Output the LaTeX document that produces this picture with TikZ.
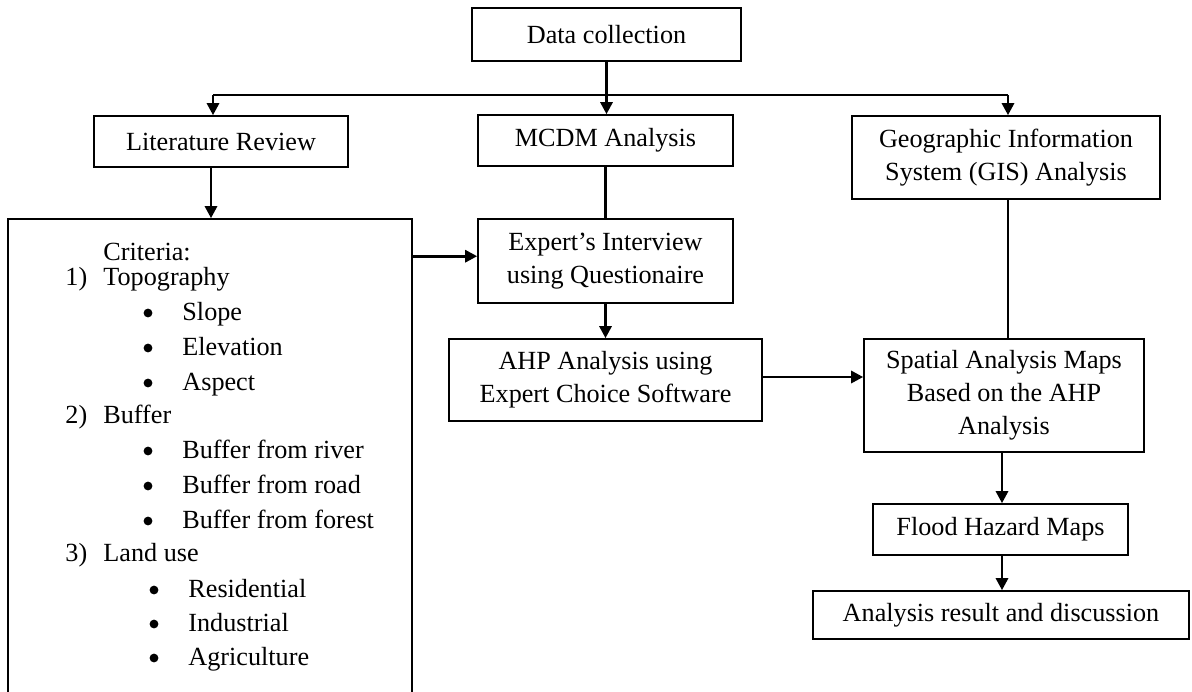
\documentclass[tikz,border=0pt]{standalone}
\usepackage{fontspec}
\setmainfont{Liberation Serif}
\usetikzlibrary{arrows.meta}
\begin{document}
\begin{tikzpicture}[x=0.5pt,y=-0.5pt,
  txt/.style={font=\fontsize{13.1pt}{16.5pt}\selectfont},
  box/.style={draw, line width=0.8pt, inner sep=0pt, align=center, txt},
  conn/.style={line width=1.4pt},
  arr/.style={conn, -{Triangle[length=6pt,width=6pt]}},
  lbl/.style={anchor=base west, inner sep=0pt, txt},
  bul/.style={circle, fill=black, inner sep=0pt, minimum size=4.4pt}]
\useasboundingbox (0,0) rectangle (1192,691);
\fill[white] (0,0) rectangle (1192,691);
\clip (0,0) rectangle (1192,691);

% boxes
\node[box, minimum width=134.5pt, minimum height=26.5pt] (data) at (606.5,34.5) {Data collection};
\node[box, minimum width=127pt, minimum height=25.5pt] (lit) at (221,141.5) {Literature Review};
\node[box, minimum width=127.5pt, minimum height=25.5pt] (mcdm) at (605.5,140.5) {MCDM Analysis};
\node[box, minimum width=154pt, minimum height=41.5pt] (gis) at (1006,157.5) {Geographic Information\\System (GIS) Analysis};
\node[box, minimum width=202pt, minimum height=270.5pt] (crit) at (210,489.5) {};
\node[box, minimum width=127.5pt, minimum height=42pt] (expert) at (605.5,261) {Expert’s Interview\\using Questionaire};
\node[box, minimum width=156.5pt, minimum height=41pt] (ahp) at (605.5,380) {AHP Analysis using\\Expert Choice Software};
\node[box, minimum width=140pt, minimum height=56.5pt] (spatial) at (1004,395.5) {Spatial Analysis Maps\\Based on the AHP\\Analysis};
\node[box, minimum width=127.5pt, minimum height=25.5pt] (flood) at (1000.5,529.5) {Flood Hazard Maps};
\node[box, minimum width=188pt, minimum height=24pt] (result) at (1001,615) {Analysis result and discussion};

% criteria list
\node[lbl] (c0) at (103,260) {Criteria:};
\node[lbl] (n1) at (65,285) {1)};
\node[lbl] (c1) at (103,285) {Topography};
\node[bul] (b11) at (148,313) {};
\node[lbl] (c11) at (182,320) {Slope};
\node[bul] (b12) at (148,348) {};
\node[lbl] (c12) at (182,355) {Elevation};
\node[bul] (b13) at (148,383) {};
\node[lbl] (c13) at (182,390) {Aspect};
\node[lbl] (n2) at (65,423) {2)};
\node[lbl] (c2) at (103,423) {Buffer};
\node[bul] (b21) at (148,451) {};
\node[lbl] (c21) at (182,458) {Buffer from river};
\node[bul] (b22) at (148,486) {};
\node[lbl] (c22) at (182,493) {Buffer from road};
\node[bul] (b23) at (148,521) {};
\node[lbl] (c23) at (182,528) {Buffer from forest};
\node[lbl] (n3) at (65,561) {3)};
\node[lbl] (c3) at (103,561) {Land use};
\node[bul] (b31) at (154,590) {};
\node[lbl] (c31) at (188,597) {Residential};
\node[bul] (b32) at (154,624) {};
\node[lbl] (c32) at (188,631) {Industrial};
\node[bul] (b33) at (154,658) {};
\node[lbl] (c33) at (188,665) {Agriculture};

% connectors
\coordinate (hubL) at (213,95);
\coordinate (hubR) at (1008,95);
\draw[conn] (data.south) -- (data.south |- hubL);
\draw[conn] (hubL) -- (hubR);
\draw[arr] (hubL) -- (hubL |- lit.north);
\draw[arr] (data.south |- hubL) -- (data.south |- mcdm.north);
\draw[arr] (hubR) -- (hubR |- gis.north);
\draw[arr] ([xshift=-5pt]lit.south) -- ([xshift=-5pt]lit.south |- crit.north);
\draw[conn] (mcdm.south) -- (expert.north);
\draw[arr] ([yshift=-19pt]crit.north east) -- ([yshift=-19pt]expert.north west);
\draw[arr] (expert.south) -- (ahp.north);
\draw[arr] ([yshift=1.5pt]ahp.east) -- ([yshift=1.5pt]ahp.east -| spatial.west);
\draw[conn] (hubR |- gis.south) -- (hubR |- spatial.north);
\draw[arr] ([xshift=-1pt]spatial.south) -- ([xshift=-1pt]spatial.south |- flood.north);
\draw[arr] ([xshift=-1pt]spatial.south |- flood.south) -- ([xshift=-1pt]spatial.south |- result.north);
\end{tikzpicture}
\end{document}
